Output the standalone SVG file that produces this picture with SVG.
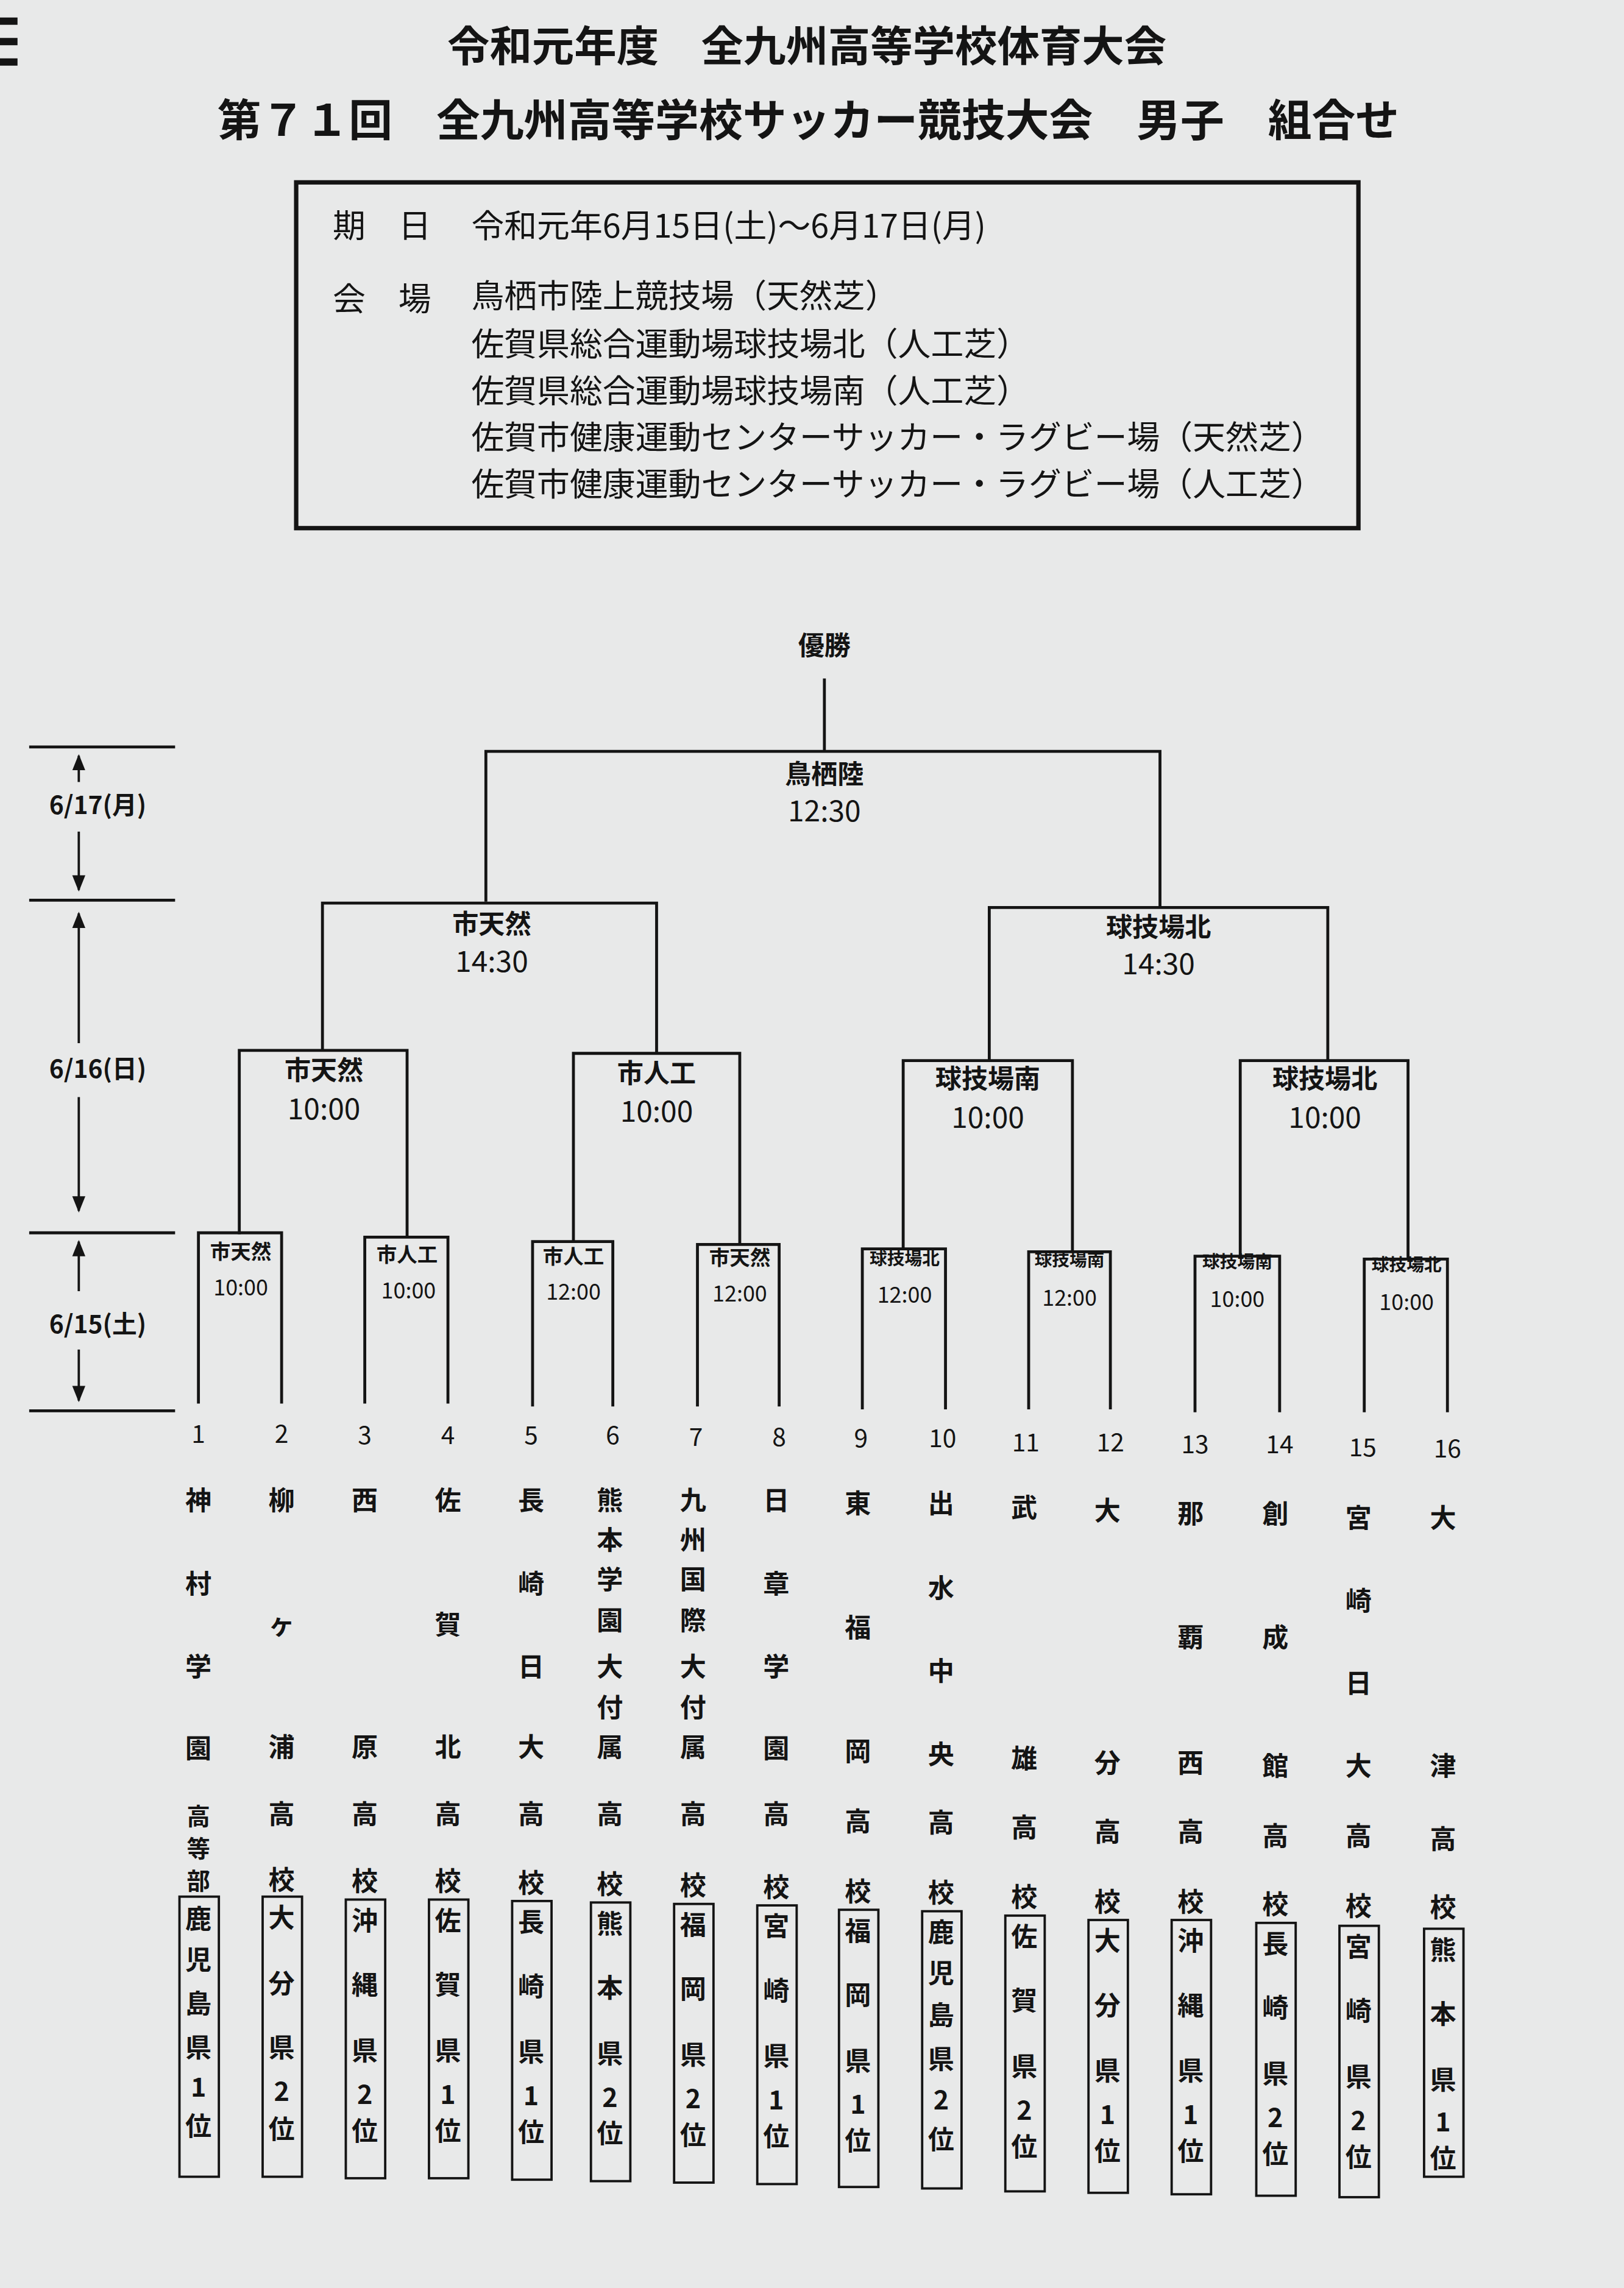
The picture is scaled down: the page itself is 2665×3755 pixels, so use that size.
<svg xmlns="http://www.w3.org/2000/svg" width="2665" height="3755" viewBox="0 0 2665 3755">
<style>
text{font-family:"Noto Sans CJK JP","Noto Sans",sans-serif;fill:#141414;text-anchor:middle}
.t{font-size:29px;font-weight:bold}
.i{font-size:22.5px;text-anchor:start}
.l{font-size:18px;font-weight:bold}
.tm{font-size:20px}
.s{font-size:14px;font-weight:bold}
.st{font-size:15px}
.n{font-size:17px}
.c{font-size:18px;font-weight:bold}
.d{font-size:17px;font-weight:bold}
.ln{fill:none;stroke:#141414;stroke-width:2}
.ar{fill:none;stroke:#141414;stroke-width:1.6;marker-end:url(#ar)}
.bx{fill:none;stroke:#141414;stroke-width:1.6}
</style>
<defs>
<marker id="ar" viewBox="0 0 10 10" refX="9" refY="5" markerWidth="7" markerHeight="7" orient="auto"><path d="M0,1 L10,5 L0,9 z" fill="#141414"/></marker>
</defs>
<rect width="2665" height="3755" fill="#e8e9e9"/>
<g transform="scale(2.3944)">
<g id="title">
<rect x="0" y="12" width="12" height="5" fill="#141414"/><rect x="0" y="26" width="12" height="5" fill="#141414"/><rect x="0" y="40" width="12" height="5" fill="#141414"/>
<text class="t" x="553" y="42">令和元年度　全九州高等学校体育大会</text>
<text class="t" x="554" y="93" style="font-size:30px">第７１回　全九州高等学校サッカー競技大会　男子　組合せ</text>
</g>
<g id="info">
<rect x="203" y="125" width="728" height="237" fill="none" stroke="#141414" stroke-width="3"/>
<text class="i" x="228" y="163">期　日</text>
<text class="i" x="323" y="163">令和元年6月15日(土)～6月17日(月)</text>
<text class="i" x="228" y="213">会　場</text>
<text class="i" x="323" y="211">鳥栖市陸上競技場（天然芝）</text>
<text class="i" x="323" y="244">佐賀県総合運動場球技場北（人工芝）</text>
<text class="i" x="323" y="276">佐賀県総合運動場球技場南（人工芝）</text>
<text class="i" x="323" y="308">佐賀市健康運動センターサッカー・ラグビー場（天然芝）</text>
<text class="i" x="323" y="340">佐賀市健康運動センターサッカー・ラグビー場（人工芝）</text>
</g>
<g id="dates">
<path class="ln" d="M20,512H120M20,617H120M20,845H120M20,967H120"/>
<line class="ar" x1="54" y1="536" x2="54" y2="518"/>
<line class="ar" x1="54" y1="570" x2="54" y2="610"/>
<line class="ar" x1="54" y1="715" x2="54" y2="626"/>
<line class="ar" x1="54" y1="752" x2="54" y2="830"/>
<line class="ar" x1="54" y1="885" x2="54" y2="851"/>
<line class="ar" x1="54" y1="925" x2="54" y2="960"/>
<text class="d" x="67" y="558">6/17(月)</text>
<text class="d" x="67" y="739">6/16(日)</text>
<text class="d" x="67" y="914">6/15(土)</text>
</g>
<g id="connectors">
<path class="ln" d="M565,465V515M333,618V515H795V622"/>
<path class="ln" d="M221,720V619H450V722M678,727V622H910V727"/>
<path class="ln" d="M164,846V720H279V848M393,851V722H507V853M619,856V727H735V858M850,861V727H965V863"/>
<path class="ln" d="M136,962V845H193V962M250,962V848H307V962M365,964V851H420V964M478,964V853H534V964M591,966V856H648V966M705,966V858H761V966M819,968V861H877V968M935,968V863H992V968"/>
</g>
<g id="champ"><text class="l" x="565" y="449">優勝</text></g>
<g id="final"><text class="l" x="565" y="537">鳥栖陸</text><text class="tm" x="565" y="563">12:30</text></g>
<g id="sf1"><text class="l" x="337" y="640">市天然</text><text class="tm" x="337" y="666">14:30</text></g>
<g id="sf2"><text class="l" x="794" y="642">球技場北</text><text class="tm" x="794" y="668">14:30</text></g>
<g id="qf1"><text class="l" x="222" y="740">市天然</text><text class="tm" x="222" y="767">10:00</text></g>
<g id="qf2"><text class="l" x="450" y="742">市人工</text><text class="tm" x="450" y="769">10:00</text></g>
<g id="qf3"><text class="l" x="677" y="746">球技場南</text><text class="tm" x="677" y="773">10:00</text></g>
<g id="qf4"><text class="l" x="908" y="746">球技場北</text><text class="tm" x="908" y="773">10:00</text></g>
<g id="r1-1"><text class="s" x="165" y="863">市天然</text><text class="st" x="165" y="888">10:00</text></g>
<g id="r1-2"><text class="s" x="279" y="865">市人工</text><text class="st" x="280" y="890">10:00</text></g>
<g id="r1-3"><text class="s" x="393" y="866">市人工</text><text class="st" x="393" y="891">12:00</text></g>
<g id="r1-4"><text class="s" x="507" y="867">市天然</text><text class="st" x="507" y="892">12:00</text></g>
<g id="r1-5"><text class="s" x="620" y="867" style="font-size:12px">球技場北</text><text class="st" x="620" y="893">12:00</text></g>
<g id="r1-6"><text class="s" x="733" y="868" style="font-size:12px">球技場南</text><text class="st" x="733" y="895">12:00</text></g>
<g id="r1-7"><text class="s" x="848" y="869" style="font-size:12px">球技場南</text><text class="st" x="848" y="896">10:00</text></g>
<g id="r1-8"><text class="s" x="964" y="871" style="font-size:12px">球技場北</text><text class="st" x="964" y="898">10:00</text></g>
<g id="nums">
<text class="n" x="136" y="989">1</text><text class="n" x="193" y="989">2</text><text class="n" x="250" y="990">3</text><text class="n" x="307" y="990">4</text><text class="n" x="364" y="990">5</text><text class="n" x="420" y="990">6</text><text class="n" x="477" y="991">7</text><text class="n" x="534" y="991">8</text><text class="n" x="590" y="992">9</text><text class="n" x="646" y="992">10</text><text class="n" x="703" y="995">11</text><text class="n" x="761" y="995">12</text><text class="n" x="819" y="996">13</text><text class="n" x="877" y="996">14</text><text class="n" x="934" y="998">15</text><text class="n" x="992" y="999">16</text>
</g>
<g id="team1"><text class="c" x="136" y="1035">神</text><text class="c" x="136" y="1092">村</text><text class="c" x="136" y="1149">学</text><text class="c" x="136" y="1205">園</text><text class="c" x="136" y="1251" style="font-size:16px">高</text><text class="c" x="136" y="1273" style="font-size:16px">等</text><text class="c" x="136" y="1295" style="font-size:16px">部</text>
<rect class="bx" x="123" y="1300" width="27" height="192"/><text class="c" x="136" y="1322">鹿</text><text class="c" x="136" y="1350">児</text><text class="c" x="136" y="1380">島</text><text class="c" x="136" y="1410">県</text><text class="c" x="136" y="1437">1</text><text class="c" x="136" y="1464">位</text></g>
<g id="team2"><text class="c" x="193" y="1035">柳</text><text class="c" x="193" y="1120">ヶ</text><text class="c" x="193" y="1204">浦</text><text class="c" x="193" y="1250">高</text><text class="c" x="193" y="1295">校</text>
<rect class="bx" x="180" y="1300" width="27" height="192"/><text class="c" x="193" y="1321">大</text><text class="c" x="193" y="1366">分</text><text class="c" x="193" y="1410">県</text><text class="c" x="193" y="1440">2</text><text class="c" x="193" y="1466">位</text></g>
<g id="team3"><text class="c" x="250" y="1035">西</text><text class="c" x="250" y="1204">原</text><text class="c" x="250" y="1250">高</text><text class="c" x="250" y="1296">校</text>
<rect class="bx" x="237" y="1302" width="27" height="191"/><text class="c" x="250" y="1323">沖</text><text class="c" x="250" y="1367">縄</text><text class="c" x="250" y="1412">県</text><text class="c" x="250" y="1442">2</text><text class="c" x="250" y="1467">位</text></g>
<g id="team4"><text class="c" x="307" y="1035">佐</text><text class="c" x="307" y="1120">賀</text><text class="c" x="307" y="1204">北</text><text class="c" x="307" y="1250">高</text><text class="c" x="307" y="1296">校</text>
<rect class="bx" x="294" y="1302" width="27" height="191"/><text class="c" x="307" y="1323">佐</text><text class="c" x="307" y="1367">賀</text><text class="c" x="307" y="1412">県</text><text class="c" x="307" y="1442">1</text><text class="c" x="307" y="1467">位</text></g>
<g id="team5"><text class="c" x="364" y="1035">長</text><text class="c" x="364" y="1092">崎</text><text class="c" x="364" y="1149">日</text><text class="c" x="364" y="1204">大</text><text class="c" x="364" y="1250">高</text><text class="c" x="364" y="1297">校</text>
<rect class="bx" x="351" y="1303" width="27" height="191"/><text class="c" x="364" y="1324">長</text><text class="c" x="364" y="1368">崎</text><text class="c" x="364" y="1413">県</text><text class="c" x="364" y="1443">1</text><text class="c" x="364" y="1468">位</text></g>
<g id="team6"><text class="c" x="418" y="1035">熊</text><text class="c" x="418" y="1062">本</text><text class="c" x="418" y="1089">学</text><text class="c" x="418" y="1117">園</text><text class="c" x="418" y="1149">大</text><text class="c" x="418" y="1177">付</text><text class="c" x="418" y="1204">属</text><text class="c" x="418" y="1250">高</text><text class="c" x="418" y="1298">校</text>
<rect class="bx" x="405" y="1304" width="27" height="191"/><text class="c" x="418" y="1325">熊</text><text class="c" x="418" y="1369">本</text><text class="c" x="418" y="1414">県</text><text class="c" x="418" y="1444">2</text><text class="c" x="418" y="1469">位</text></g>
<g id="team7"><text class="c" x="475" y="1035">九</text><text class="c" x="475" y="1062">州</text><text class="c" x="475" y="1089">国</text><text class="c" x="475" y="1117">際</text><text class="c" x="475" y="1149">大</text><text class="c" x="475" y="1177">付</text><text class="c" x="475" y="1204">属</text><text class="c" x="475" y="1250">高</text><text class="c" x="475" y="1299">校</text>
<rect class="bx" x="462" y="1305" width="27" height="191"/><text class="c" x="475" y="1326">福</text><text class="c" x="475" y="1370">岡</text><text class="c" x="475" y="1415">県</text><text class="c" x="475" y="1445">2</text><text class="c" x="475" y="1470">位</text></g>
<g id="team8"><text class="c" x="532" y="1035">日</text><text class="c" x="532" y="1092">章</text><text class="c" x="532" y="1149">学</text><text class="c" x="532" y="1205">園</text><text class="c" x="532" y="1250">高</text><text class="c" x="532" y="1300">校</text>
<rect class="bx" x="519" y="1306" width="27" height="191"/><text class="c" x="532" y="1327">宮</text><text class="c" x="532" y="1371">崎</text><text class="c" x="532" y="1416">県</text><text class="c" x="532" y="1446">1</text><text class="c" x="532" y="1471">位</text></g>
<g id="team9"><text class="c" x="588" y="1037">東</text><text class="c" x="588" y="1122">福</text><text class="c" x="588" y="1207">岡</text><text class="c" x="588" y="1255">高</text><text class="c" x="588" y="1303">校</text>
<rect class="bx" x="575" y="1309" width="27" height="190"/><text class="c" x="588" y="1330">福</text><text class="c" x="588" y="1374">岡</text><text class="c" x="588" y="1419">県</text><text class="c" x="588" y="1449">1</text><text class="c" x="588" y="1474">位</text></g>
<g id="team10"><text class="c" x="645" y="1037">出</text><text class="c" x="645" y="1095">水</text><text class="c" x="645" y="1152">中</text><text class="c" x="645" y="1209">央</text><text class="c" x="645" y="1256">高</text><text class="c" x="645" y="1304">校</text>
<rect class="bx" x="632" y="1310" width="27" height="190"/><text class="c" x="645" y="1331">鹿</text><text class="c" x="645" y="1359">児</text><text class="c" x="645" y="1388">島</text><text class="c" x="645" y="1418">県</text><text class="c" x="645" y="1446">2</text><text class="c" x="645" y="1473">位</text></g>
<g id="team11"><text class="c" x="702" y="1040">武</text><text class="c" x="702" y="1212">雄</text><text class="c" x="702" y="1259">高</text><text class="c" x="702" y="1307">校</text>
<rect class="bx" x="689" y="1313" width="27" height="189"/><text class="c" x="702" y="1334">佐</text><text class="c" x="702" y="1378">賀</text><text class="c" x="702" y="1423">県</text><text class="c" x="702" y="1453">2</text><text class="c" x="702" y="1478">位</text></g>
<g id="team12"><text class="c" x="759" y="1042">大</text><text class="c" x="759" y="1215">分</text><text class="c" x="759" y="1262">高</text><text class="c" x="759" y="1310">校</text>
<rect class="bx" x="746" y="1316" width="27" height="187"/><text class="c" x="759" y="1337">大</text><text class="c" x="759" y="1381">分</text><text class="c" x="759" y="1426">県</text><text class="c" x="759" y="1456">1</text><text class="c" x="759" y="1481">位</text></g>
<g id="team13"><text class="c" x="816" y="1044">那</text><text class="c" x="816" y="1129">覇</text><text class="c" x="816" y="1215">西</text><text class="c" x="816" y="1262">高</text><text class="c" x="816" y="1310">校</text>
<rect class="bx" x="803" y="1316" width="27" height="188"/><text class="c" x="816" y="1337">沖</text><text class="c" x="816" y="1381">縄</text><text class="c" x="816" y="1426">県</text><text class="c" x="816" y="1456">1</text><text class="c" x="816" y="1481">位</text></g>
<g id="team14"><text class="c" x="874" y="1044">創</text><text class="c" x="874" y="1129">成</text><text class="c" x="874" y="1217">館</text><text class="c" x="874" y="1265">高</text><text class="c" x="874" y="1312">校</text>
<rect class="bx" x="861" y="1318" width="27" height="187"/><text class="c" x="874" y="1339">長</text><text class="c" x="874" y="1383">崎</text><text class="c" x="874" y="1428">県</text><text class="c" x="874" y="1458">2</text><text class="c" x="874" y="1483">位</text></g>
<g id="team15"><text class="c" x="931" y="1047">宮</text><text class="c" x="931" y="1104">崎</text><text class="c" x="931" y="1160">日</text><text class="c" x="931" y="1217">大</text><text class="c" x="931" y="1265">高</text><text class="c" x="931" y="1313">校</text>
<rect class="bx" x="918" y="1320" width="27" height="186"/><text class="c" x="931" y="1341">宮</text><text class="c" x="931" y="1385">崎</text><text class="c" x="931" y="1430">県</text><text class="c" x="931" y="1460">2</text><text class="c" x="931" y="1485">位</text></g>
<g id="team16"><text class="c" x="989" y="1047">大</text><text class="c" x="989" y="1217">津</text><text class="c" x="989" y="1267">高</text><text class="c" x="989" y="1314">校</text>
<rect class="bx" x="976" y="1322" width="27" height="170"/><text class="c" x="989" y="1343">熊</text><text class="c" x="989" y="1387">本</text><text class="c" x="989" y="1432">県</text><text class="c" x="989" y="1461">1</text><text class="c" x="989" y="1486">位</text></g>
</g>
</svg>
